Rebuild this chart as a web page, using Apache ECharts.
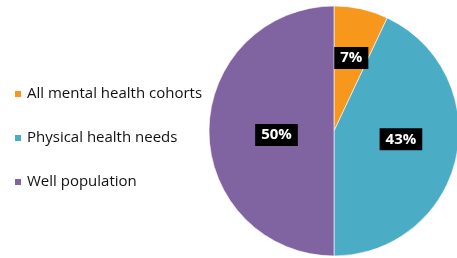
<!DOCTYPE html>
<html>
<head>
<meta charset="utf-8">
<script src="https://cdn.jsdelivr.net/npm/echarts@6/dist/echarts.min.js"></script>
<style>
  html, body { margin: 0; padding: 0; background: #fff; }
  #chart { width: 457px; height: 258px; }
</style>
</head>
<body>
<div id="chart"></div>
<script>
const categories = ['All mental health cohorts', 'Physical health needs', 'Well population']
const values = [7, 43, 50]
const colors = ['#F7971C', '#4BACC6', '#8064A2']
// nudge labels to where the source put them
const labelOffsets = [[3, -9], [3, -6], [8, 4]]

const chart = echarts.init(document.getElementById('chart'))

const pieData = categories.map((name, i) => ({
  name,
  value: values[i],
  itemStyle: { color: colors[i] },
  label: { offset: labelOffsets[i] }
}))

chart.setOption({
  animation: false,
  legend: {
    orient: 'vertical',
    left: 13,
    top: 86,
    padding: 0,
    itemWidth: 8,
    itemHeight: 8,
    itemGap: 28,
    icon: 'rect',
    textStyle: {
      fontFamily: 'Open Sans',
      fontSize: 15,
      lineHeight: 16,
      color: '#111'
    },
    data: categories
  },
  series: [
    {
      type: 'pie',
      center: [334, 131],
      radius: 125,
      startAngle: 90,
      clockwise: true,
      itemStyle: { borderColor: '#fff', borderWidth: 0.6 },
      label: {
        show: true,
        position: 'inside',
        formatter: '{c}%',
        fontFamily: 'Open Sans',
        fontSize: 15,
        fontWeight: 'bold',
        color: '#fff',
        backgroundColor: '#000',
        padding: [4, 6, 3, 6]
      },
      labelLine: { show: false },
      emphasis: { disabled: true },
      data: pieData
    }
  ]
})
</script>
</body>
</html>
